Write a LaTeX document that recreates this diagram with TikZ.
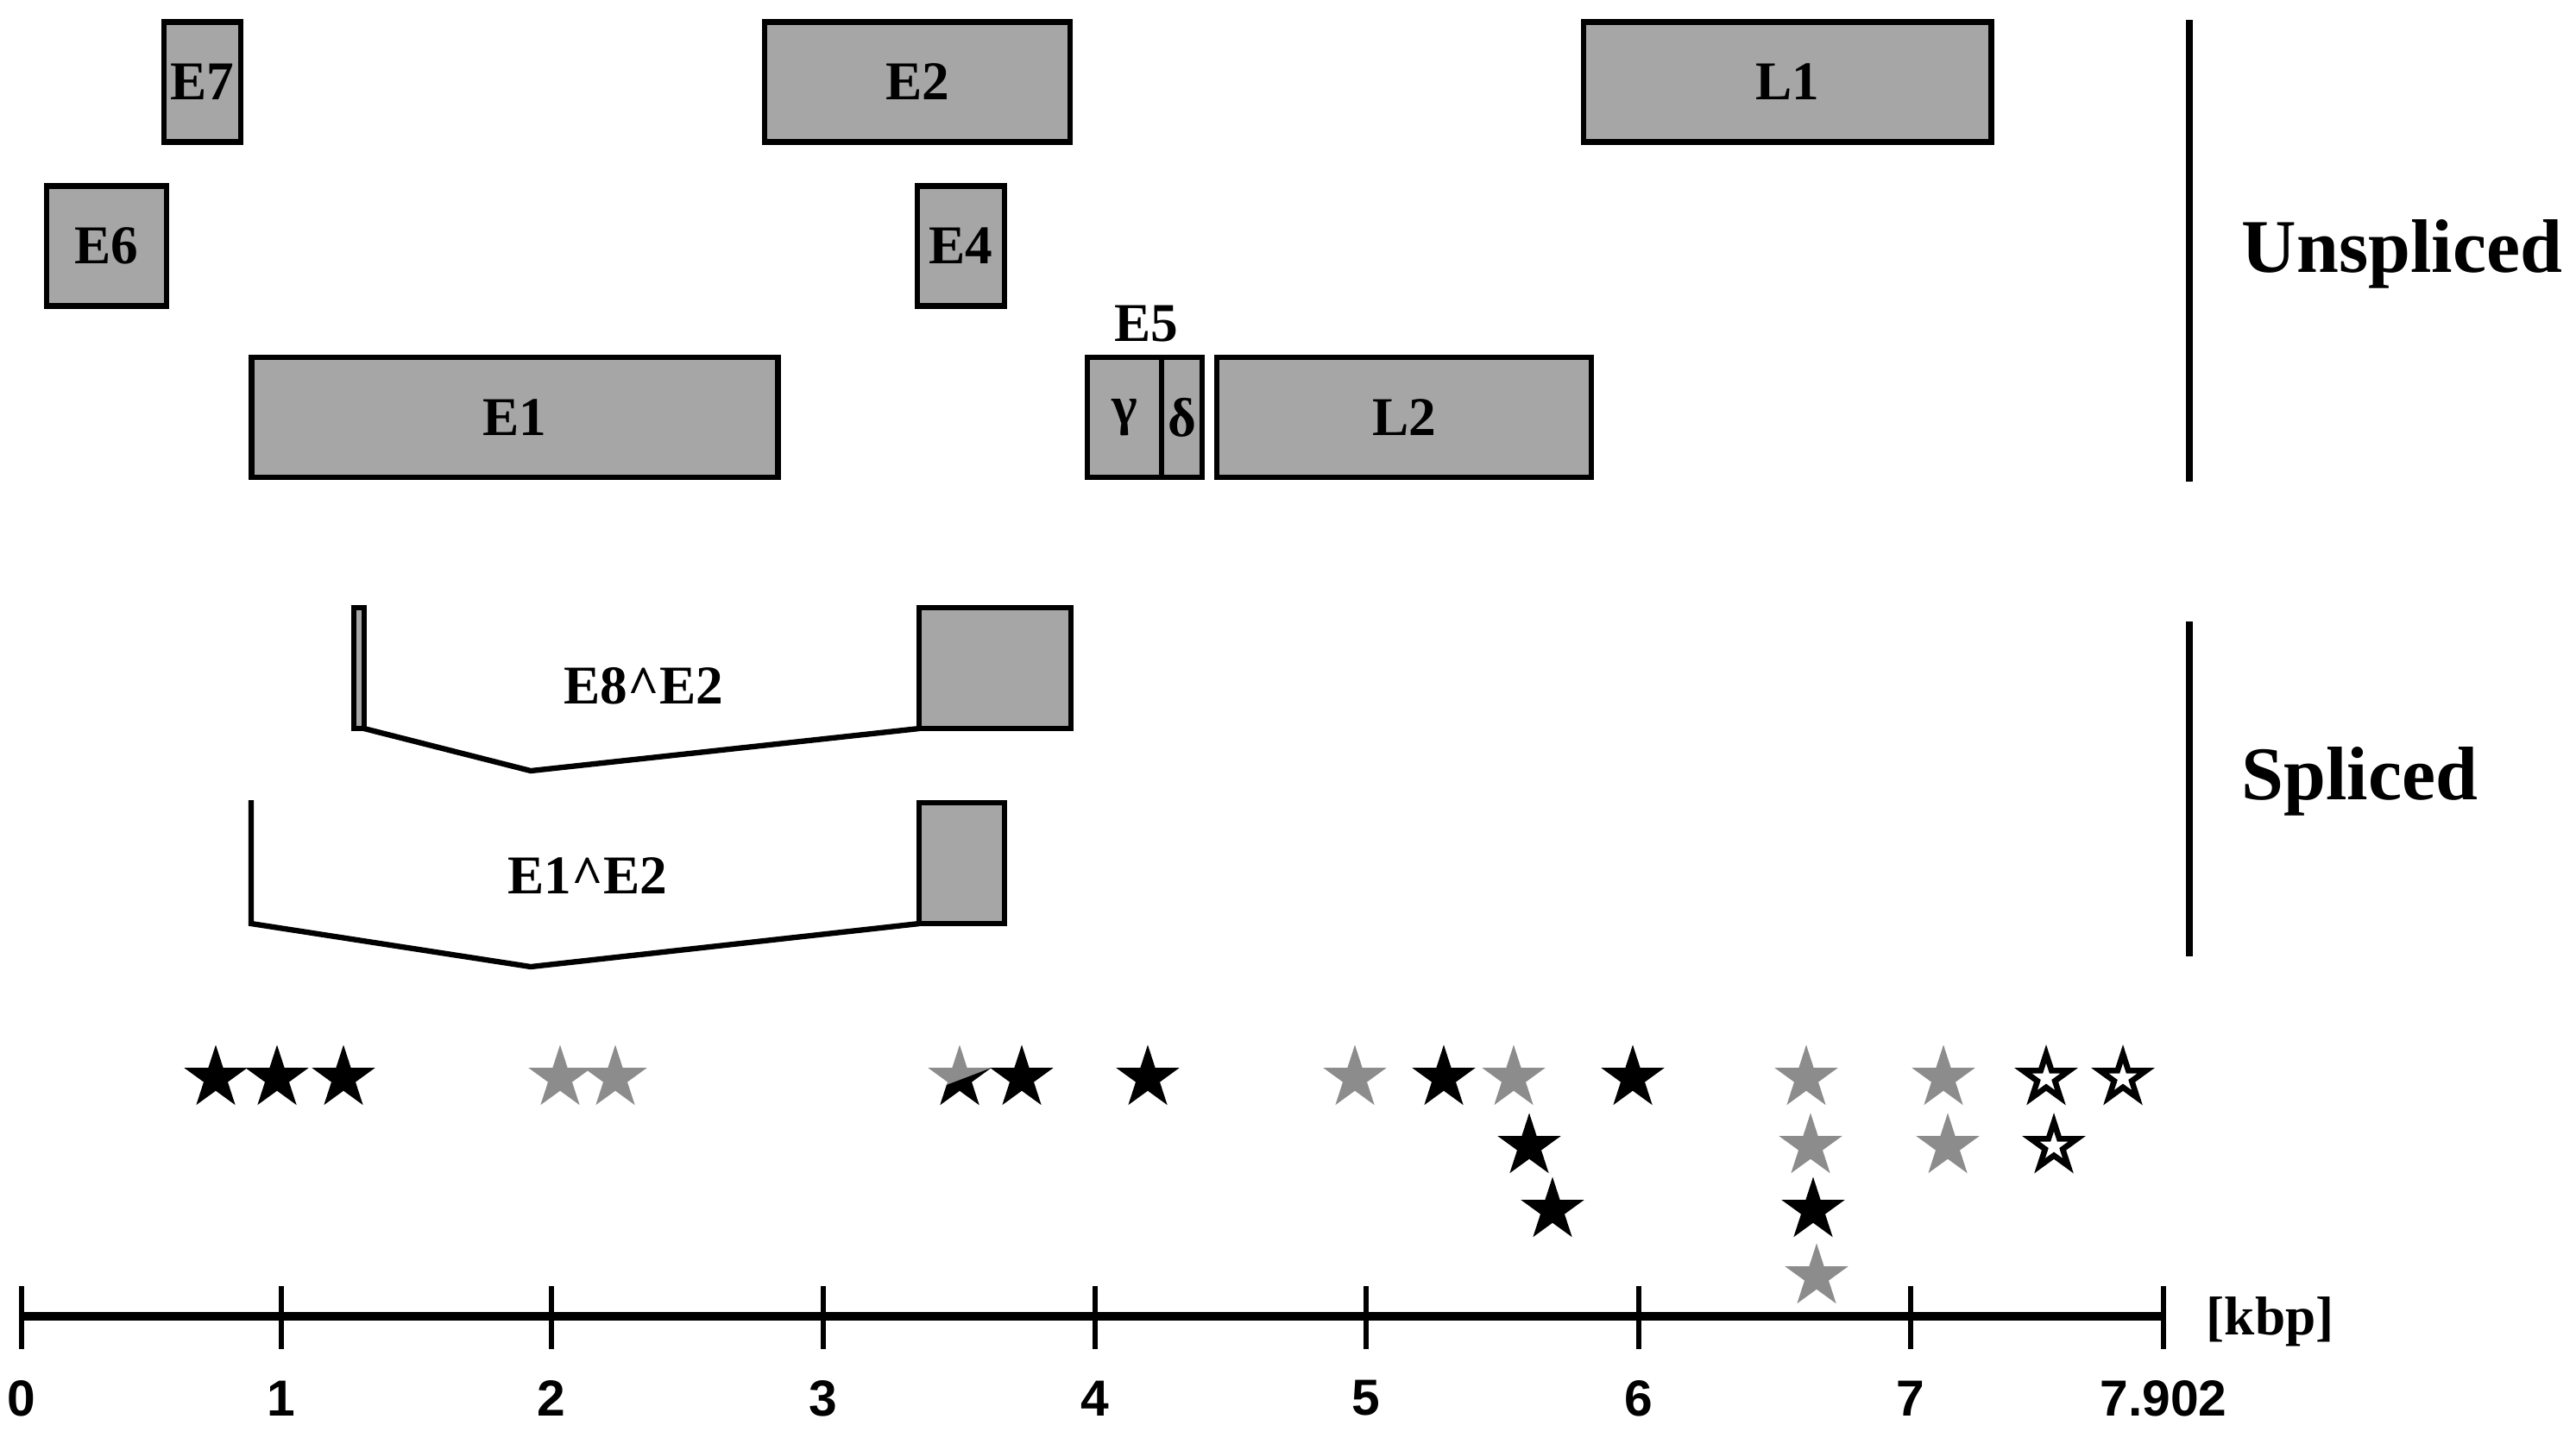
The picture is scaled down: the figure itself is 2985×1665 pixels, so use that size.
\documentclass[tikz,border=0pt]{standalone}
\usepackage{fontspec}
\setmainfont{Liberation Serif}
\newfontfamily\axisfont{Liberation Sans}
\usetikzlibrary{shapes.geometric}
\definecolor{boxgray}{RGB}{166,166,166}
\definecolor{stargray}{RGB}{140,140,140}
\begin{document}
\begin{tikzpicture}[x=0.01cm,y=-0.01cm,
  gene/.style={draw=black, fill=boxgray, line width=1.9pt, inner sep=0pt, outer sep=0pt,
    font=\fontsize{18}{20}\selectfont\bfseries},
  lbl/.style={inner sep=0pt, font=\fontsize{18}{20}\selectfont\bfseries},
  side/.style={inner sep=0pt, font=\fontsize{25}{28}\selectfont\bfseries},
  ticklbl/.style={inner sep=0pt, font=\axisfont\fontsize{16.7}{19}\selectfont\bfseries},
  intron/.style={line width=1.8pt, line join=miter},
  secbar/.style={line width=2.2pt},
  axisline/.style={line width=2.8pt},
  tickline/.style={line width=1.6pt},
  starbase/.style={star, star points=5, star point ratio=2.618, inner sep=0pt, outer sep=0pt},
  bstar/.style={starbase, minimum size=0.77cm, fill=black},
  gstar/.style={starbase, minimum size=0.77cm, fill=stargray},
  ostar/.style={starbase, minimum size=0.56cm, draw=black, fill=white, line width=1.9pt, line join=miter, miter limit=10}
]
\path[use as bounding box] (0,0) rectangle (2985,1665);

% ---------------- Unspliced ----------------
\node[gene, minimum width=0.89cm, minimum height=1.39cm] (E7) at (234.5,95) {E7};
\node[gene, minimum width=3.54cm, minimum height=1.39cm] (E2) at (1063,95) {E2};
\node[gene, minimum width=4.72cm, minimum height=1.39cm] (L1) at (2071,95) {L1};
\node[gene, minimum width=1.39cm, minimum height=1.39cm] (E6) at (123.5,285) {E6};
\node[gene, minimum width=1.01cm, minimum height=1.39cm] (E4) at (1113.5,285) {E4};
\node[gene, minimum width=6.09cm, minimum height=1.39cm] (E1) at (596.5,483.5) {E1};
\node[gene, minimum width=0.86cm, minimum height=1.39cm] (gam) at (1303,483.5) {γ};
\node[gene, minimum width=0.47cm, minimum height=1.39cm] (del) at (1369.5,483.5) {δ};
\node[gene, minimum width=4.34cm, minimum height=1.39cm] (L2) at (1627,483.5) {L2};
\node[lbl] (E5) at (1328,375) {E5};

\coordinate (ub1) at (2537,23);
\coordinate (ub2) at (2537,558);
\draw[secbar] (ub1) -- (ub2);
\node[side, anchor=base west] (uns) at (2597,315) {Unspliced};

% ---------------- Spliced ----------------
\node[gene, minimum width=0.12cm, minimum height=1.40cm] (E8) at (416,774) {};
\node[gene, minimum width=1.76cm, minimum height=1.40cm] (E8E2) at (1153,774) {};
\coordinate (v1) at (615,893);
\draw[intron] (E8.south east) -- (v1) -- (E8E2.south west);
\node[lbl] (lab1) at (746,795) {E8\textasciicircum E2};

\coordinate (e1t) at (291,927);
\coordinate (e1b) at (291,1070);
\node[gene, minimum width=0.99cm, minimum height=1.40cm] (E1E2) at (1114.5,1000) {};
\coordinate (v2) at (615,1120);
\draw[intron] (e1t) -- (e1b) -- (v2) -- (E1E2.south west);
\node[lbl] (lab2) at (681,1015) {E1\textasciicircum E2};

\coordinate (sb1) at (2537,720);
\coordinate (sb2) at (2537,1108);
\draw[secbar] (sb1) -- (sb2);
\node[side, anchor=base west] (spl) at (2597,926) {Spliced};

% ---------------- Stars ----------------
\node[bstar] (s1) at (250,1249) {};
\node[bstar] (s2) at (321,1249) {};
\node[bstar] (s3) at (398,1249) {};
\node[gstar] (s4) at (649,1249) {};
\node[gstar] (s5) at (713,1249) {};
\node[gstar] (s6) at (1112,1249) {};
\begin{scope}
  \clip (1060,1271) -- (1165,1231) -- (1165,1300) -- (1060,1300) -- cycle;
  \node[bstar] (s6b) at (1112,1249) {};
\end{scope}
\node[bstar] (s7) at (1184,1249) {};
\node[bstar] (s8) at (1330,1249) {};
\node[gstar] (s9) at (1570,1249) {};
\node[bstar] (s10) at (1673,1249) {};
\node[gstar] (s11) at (1754,1249) {};
\node[bstar] (s12) at (1892,1249) {};
\node[gstar] (s13) at (2093,1249) {};
\node[gstar] (s14) at (2252,1249) {};
\node[ostar] (s15) at (2371,1249) {};
\node[ostar] (s16) at (2460,1249) {};

\node[bstar] (s17) at (1772,1328) {};
\node[gstar] (s18) at (2098,1328) {};
\node[gstar] (s19) at (2257,1328) {};
\node[ostar] (s20) at (2380,1328) {};

\node[bstar] (s21) at (1799,1402) {};
\node[bstar] (s22) at (2101,1402) {};

\node[gstar] (s23) at (2105,1479) {};

% ---------------- Axis ----------------
\coordinate (ax0) at (25,1525);
\coordinate (ax1) at (2507,1525);
\draw[axisline] (ax0) -- (ax1);
\foreach \xx/\lab/\nm in {25/0/t0,326/1/t1,639/2/t2,954/3/t3,1269/4/t4,1583/5/t5,1899/6/t6,2214/7/t7,2507/7.902/t8}{
  \draw[tickline] (\xx,1490) -- (\xx,1563);
  \node[ticklbl] (\nm) at (\xx,1620) {\lab};
}
\node[lbl, anchor=west] (kbp) at (2556,1531) {[kbp]};
\end{tikzpicture}
\end{document}
